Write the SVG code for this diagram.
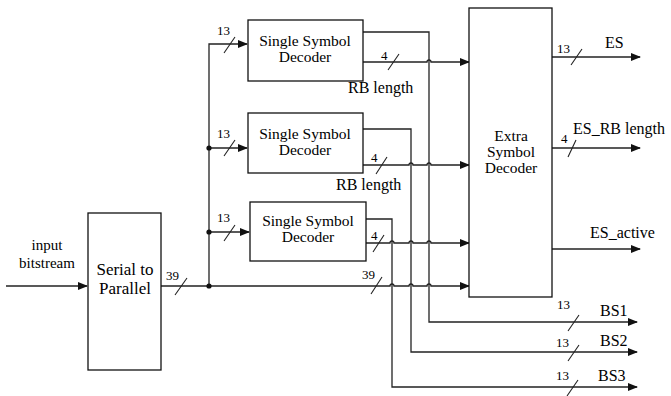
<svg xmlns="http://www.w3.org/2000/svg" width="671" height="396" viewBox="0 0 671 396">
<style>
text{font-family:"Liberation Serif","Times New Roman",serif;fill:#000}
.box{fill:#fff;stroke:#111;stroke-width:1.3}
.w{fill:none;stroke:#222;stroke-width:1.3}
.s{fill:none;stroke:#222;stroke-width:1.1}
.t16{font-size:16px}
.t15{font-size:15px}
.t13{font-size:13px}
.tb{font-size:15.5px}
.m{text-anchor:middle}
</style>
<defs>
<marker id="ah" markerWidth="10" markerHeight="8" refX="9" refY="4" orient="auto" markerUnits="userSpaceOnUse">
<path d="M0,0 L10,4 L0,8 Z" fill="#111"/>
</marker>
</defs>
<g id="connectors">
<path class="w" d="M6,286 H87" marker-end="url(#ah)"/>
<path class="w" d="M161,286 H390 a2,2 0 0 1 4,0 H409 a2,2 0 0 1 4,0 H427 a2,2 0 0 1 4,0 H469" marker-end="url(#ah)"/>
<path class="w" d="M209,286 V44 H247" marker-end="url(#ah)"/>
<path class="w" d="M209,148 H247" marker-end="url(#ah)"/>
<path class="w" d="M209,232 H249" marker-end="url(#ah)"/>
<circle cx="209" cy="148" r="2.6" fill="#111"/>
<circle cx="209" cy="232" r="2.6" fill="#111"/>
<circle cx="209" cy="286" r="2.6" fill="#111"/>
<path class="w" d="M363,62 H427 a2,2 0 0 1 4,0 H469" marker-end="url(#ah)"/>
<path class="w" d="M363,165 H409 a2,2 0 0 1 4,0 H427 a2,2 0 0 1 4,0 H469" marker-end="url(#ah)"/>
<path class="w" d="M366,243 H390 a2,2 0 0 1 4,0 H409 a2,2 0 0 1 4,0 H427 a2,2 0 0 1 4,0 H469" marker-end="url(#ah)"/>
<path class="w" d="M363,32 H429 V322 H637" marker-end="url(#ah)"/>
<path class="w" d="M363,129 H411 V352 H637" marker-end="url(#ah)"/>
<path class="w" d="M366,219 H392 V387 H637" marker-end="url(#ah)"/>
<path class="w" d="M552,57 H640" marker-end="url(#ah)"/>
<path class="w" d="M552,148 H640" marker-end="url(#ah)"/>
<path class="w" d="M552,249 H640" marker-end="url(#ah)"/>
<g class="s">
<line x1="175" y1="295" x2="187" y2="278"/>
<line x1="224" y1="53" x2="235" y2="37"/>
<line x1="224" y1="156" x2="235" y2="140"/>
<line x1="224" y1="241" x2="235" y2="225"/>
<line x1="388" y1="70" x2="399" y2="54"/>
<line x1="376" y1="174" x2="387" y2="157"/>
<line x1="373" y1="252" x2="384" y2="235"/>
<line x1="371" y1="294" x2="382" y2="277"/>
<line x1="571" y1="65" x2="582" y2="49"/>
<line x1="568" y1="157" x2="576" y2="140"/>
<line x1="568" y1="331" x2="579" y2="315"/>
<line x1="568" y1="361" x2="579" y2="345"/>
<line x1="567" y1="396" x2="578" y2="380"/>
</g>
</g>
<g id="input-label">
<text class="t15 m" x="47" y="250">input</text>
<text class="t15 m" x="47" y="268">bitstream</text>
</g>
<g id="serial-to-parallel">
<rect class="box" x="88" y="213" width="73" height="157"/>
<text class="m" x="125" y="275" style="font-size:17px">Serial to</text>
<text class="m" x="125" y="294" style="font-size:17px">Parallel</text>
</g>
<g id="decoder1">
<rect class="box" x="248" y="20" width="115" height="61"/>
<text class="tb m" x="305" y="46">Single Symbol</text>
<text class="tb m" x="305" y="62">Decoder</text>
</g>
<g id="decoder2">
<rect class="box" x="248" y="113" width="115" height="60"/>
<text class="tb m" x="305" y="139">Single Symbol</text>
<text class="tb m" x="305" y="155">Decoder</text>
</g>
<g id="decoder3">
<rect class="box" x="250" y="202" width="116" height="59"/>
<text class="tb m" x="308" y="226">Single Symbol</text>
<text class="tb m" x="308" y="242">Decoder</text>
</g>
<g id="extra-decoder">
<rect class="box" x="469" y="8" width="83" height="289"/>
<text class="tb m" x="511" y="141">Extra</text>
<text class="tb m" x="511" y="157">Symbol</text>
<text class="tb m" x="511" y="173">Decoder</text>
</g>
<g id="labels">
<text class="t13" x="166" y="280">39</text>
<text class="t13" x="217" y="35">13</text>
<text class="t13" x="217" y="138">13</text>
<text class="t13" x="217" y="222">13</text>
<text class="t13" x="381" y="60">4</text>
<text class="t13" x="371" y="162">4</text>
<text class="t13" x="371" y="240">4</text>
<text class="t13" x="362" y="279">39</text>
<text class="t16" x="348" y="93">RB length</text>
<text class="t16" x="336" y="190">RB length</text>
<text class="t13" x="557" y="53">13</text>
<text class="t16" x="605" y="48">ES</text>
<text class="t13" x="561" y="143">4</text>
<text class="t16" x="573" y="134">ES_RB length</text>
<text class="t16" x="590" y="238">ES_active</text>
<text class="t13" x="557" y="309">13</text>
<text class="t16" x="600" y="316">BS1</text>
<text class="t13" x="556" y="347">13</text>
<text class="t16" x="600" y="346">BS2</text>
<text class="t13" x="556" y="380">13</text>
<text class="t16" x="598" y="381">BS3</text>
</g>
</svg>
